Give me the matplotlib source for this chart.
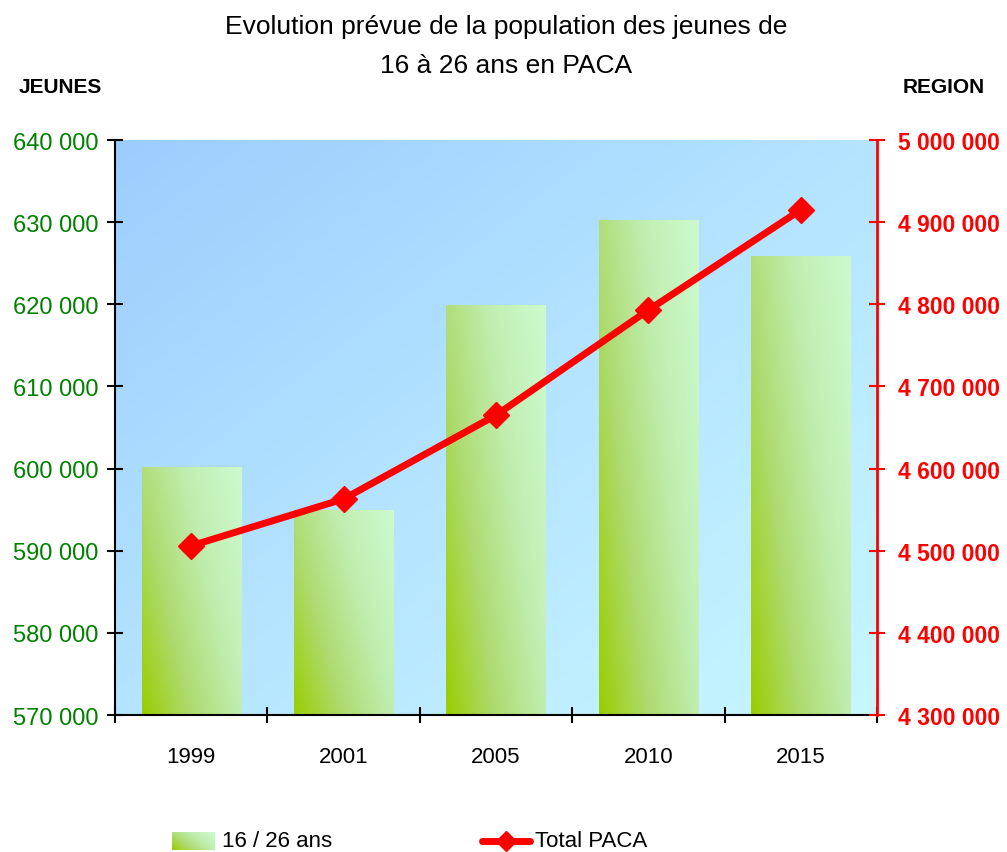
import numpy as np
import matplotlib
matplotlib.use("Agg")
import matplotlib.pyplot as plt
from matplotlib.colors import LinearSegmentedColormap
from matplotlib.lines import Line2D

plt.rcParams['font.family'] = ['Liberation Sans Narrow', 'Liberation Sans', 'DejaVu Sans']

# data
years = ['1999', '2001', '2005', '2010', '2015']
jeunes = [600200, 595000, 619900, 630300, 625900]
total_paca = [4506000, 4563000, 4665000, 4793000, 4915000]

left_ticks = np.arange(570000, 640001, 10000)
right_ticks = np.arange(4300000, 5000001, 100000)

def fmt(v):
    return '{:,}'.format(int(v)).replace(',', ' ')

fig = plt.figure(figsize=(10.07, 8.53), dpi=100)
ax = fig.add_axes([0.1142, 0.1606, 0.7567, 0.6741])
ax2 = ax.twinx()

x = np.arange(len(years))
ax.set_xlim(-0.5, len(years) - 0.5)
ax.set_ylim(570000, 640000)

# background gradient (blue top-left -> light cyan bottom-right)
bg = LinearSegmentedColormap.from_list('bg', ['#9dcdfd', '#b4e4ff', '#c8f7ff'])
gx, gy = np.meshgrid(np.linspace(0, 1, 200), np.linspace(0, 1, 200))
ax.imshow(0.6 * gx + 0.6 * gy, cmap=bg, extent=[-0.5, len(years) - 0.5, 570000, 640000],
          aspect='auto', origin='upper', zorder=0, vmin=0, vmax=1.2)

# bars with green gradient (yellow-green bottom-left -> pale green top-right)
bar_cmap = LinearSegmentedColormap.from_list('bars', ['#9acd00', '#aedb70', '#c0eeb0', '#ccf9cc'])
bar_grad = 0.7 * gx + 0.4 * gy
bars = ax.bar(x, jeunes, width=0.65, bottom=0, color='none', edgecolor='none', zorder=2)
for b in bars:
    x0, w, h = b.get_x(), b.get_width(), b.get_height()
    im = ax.imshow(bar_grad, cmap=bar_cmap, extent=[x0, x0 + w, 570000, h],
                   aspect='auto', origin='lower', zorder=2, vmin=0, vmax=1.05)
    im.set_clip_path(b)

ax2.set_ylim(4300000, 5000000)
ax2.plot(x, total_paca, color='#ff0000', lw=5, marker='D', ms=13, zorder=5)

ax.set_xticks(np.arange(-0.5, len(years), 1.0))
ax.set_xticklabels([])
ax.set_xticks(x, minor=True)
ax.set_xticklabels(years, minor=True, fontsize=16)
ax.tick_params(axis='x', which='minor', length=0, pad=22)
ax.tick_params(axis='x', which='major', direction='inout', length=12, width=1.5)

ax.set_yticks(left_ticks)
ax.set_yticklabels([fmt(v) for v in left_ticks], color='#008000', fontsize=17)
ax.tick_params(axis='y', direction='inout', length=12, width=1.5, pad=6)

ax2.set_yticks(right_ticks)
ax2.set_yticklabels([fmt(v) for v in right_ticks], color='#ff0000', fontsize=16.5, fontweight='bold')
ax2.tick_params(axis='y', direction='inout', length=12, width=1.5, color='#ff0000', pad=9)

for sp in ['top', 'right']:
    ax.spines[sp].set_visible(False)
ax.spines['left'].set_linewidth(1.5)
ax.spines['bottom'].set_linewidth(1.5)
ax2.spines['top'].set_visible(False)
ax2.spines['left'].set_visible(False)
ax2.spines['bottom'].set_visible(False)
ax2.spines['right'].set_color('#ff0000')
ax2.spines['right'].set_linewidth(2)

fig.text(0.503, 0.982, 'Evolution prévue de la population des jeunes de\n16 à 26 ans en PACA',
         ha='center', va='top', fontsize=19, linespacing=1.75)
fig.text(0.018, 0.897, 'JEUNES', fontsize=15, fontweight='bold', va='center')
fig.text(0.978, 0.897, 'REGION', fontsize=15, fontweight='bold', va='center', ha='right')

# legend
lx0, lx1 = 172 / 1007, 215 / 1007
lax = fig.add_axes([lx0, 1 - 851 / 853, lx1 - lx0, 18 / 853])
lax.imshow(bar_grad, cmap=bar_cmap, aspect='auto', origin='lower', vmin=0, vmax=1.05)
lax.axis('off')
fig.text(222 / 1007, 1 - 842 / 853, '16 / 26 ans', fontsize=16, va='center')
ly = 1 - 842 / 853
fig.lines.append(Line2D([482 / 1007, 530 / 1007], [ly, ly], transform=fig.transFigure,
                        color='#ff0000', lw=5, solid_capstyle='round'))
fig.lines.append(Line2D([506 / 1007], [ly], transform=fig.transFigure,
                        color='#ff0000', marker='D', ms=10, lw=0))
fig.text(535 / 1007, ly, 'Total PACA', fontsize=16, va='center')

fig.savefig('out.png', dpi=100)
